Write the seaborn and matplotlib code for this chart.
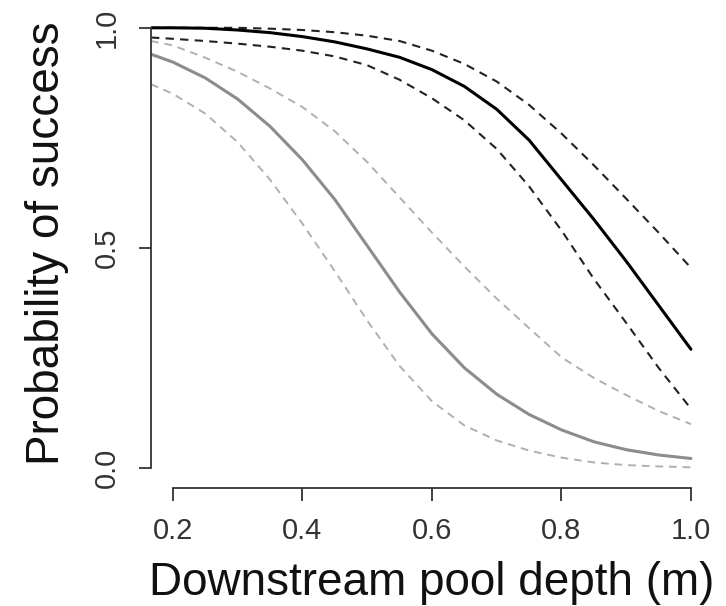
import numpy as np
import pandas as pd
import matplotlib
matplotlib.use("Agg")
import matplotlib.pyplot as plt
import seaborn as sns

# pool depth (m)
depth = [0.166, 0.2, 0.25, 0.3, 0.35, 0.4, 0.45, 0.5, 0.55, 0.6,
         0.65, 0.7, 0.75, 0.8, 0.85, 0.9, 0.95, 1.0]

# black curve: fit and confidence band
black_fit = [1.0, 1.0, 0.999, 0.995, 0.989, 0.980, 0.968, 0.952, 0.933, 0.905,
             0.867, 0.815, 0.745, 0.655, 0.565, 0.470, 0.370, 0.270]
black_hi = [1.0, 1.0, 1.0, 1.0, 0.998, 0.995, 0.990, 0.982, 0.970, 0.948,
            0.918, 0.878, 0.825, 0.760, 0.688, 0.612, 0.535, 0.455]
black_lo = [0.978, 0.975, 0.970, 0.964, 0.957, 0.948, 0.935, 0.915, 0.882, 0.840,
            0.790, 0.725, 0.640, 0.540, 0.430, 0.330, 0.228, 0.135]

# grey curve: fit and confidence band
grey_fit = [0.940, 0.922, 0.886, 0.838, 0.776, 0.700, 0.610, 0.505, 0.400, 0.305,
            0.228, 0.168, 0.122, 0.087, 0.060, 0.042, 0.030, 0.022]
grey_hi = [0.970, 0.960, 0.932, 0.900, 0.862, 0.820, 0.765, 0.695, 0.615, 0.535,
           0.458, 0.385, 0.318, 0.252, 0.205, 0.166, 0.130, 0.100]
grey_lo = [0.872, 0.850, 0.805, 0.740, 0.655, 0.555, 0.447, 0.335, 0.232, 0.152,
           0.097, 0.063, 0.040, 0.024, 0.013, 0.007, 0.004, 0.002]

x_ticks = [0.2, 0.4, 0.6, 0.8, 1.0]
y_ticks = [0.0, 0.5, 1.0]

sns.set_style("white")
plt.rcParams['font.family'] = ['Liberation Sans', 'DejaVu Sans']

fig = plt.figure(figsize=(7.26, 6.06), dpi=100)
ax = fig.add_axes([151 / 726, 118 / 606, 549 / 726, 469 / 606])

dash = (0, (4, 3))
sns.lineplot(x=depth, y=grey_hi, ax=ax, color='#b0b0b0', linewidth=1.4, linestyle=dash)
sns.lineplot(x=depth, y=grey_lo, ax=ax, color='#b0b0b0', linewidth=1.4, linestyle=dash)
sns.lineplot(x=depth, y=grey_fit, ax=ax, color='#8c8c8c', linewidth=2.2)
sns.lineplot(x=depth, y=black_hi, ax=ax, color='#222222', linewidth=1.5, linestyle=dash)
sns.lineplot(x=depth, y=black_lo, ax=ax, color='#222222', linewidth=1.5, linestyle=dash)
sns.lineplot(x=depth, y=black_fit, ax=ax, color='black', linewidth=2.2)

ax.set_xlim(0.166, 1.014)
ax.set_ylim(-0.045, 1.02)

for side in ['top', 'right']:
    ax.spines[side].set_visible(False)
ax.spines['left'].set_bounds(0, 1)
ax.spines['bottom'].set_bounds(0.2, 1.0)
for side in ['left', 'bottom']:
    ax.spines[side].set_color('#333333')
    ax.spines[side].set_linewidth(1.3)

ax.set_xticks(x_ticks)
ax.set_xticklabels([f"{v:.1f}" for v in x_ticks])
ax.set_yticks(y_ticks)
ax.set_yticklabels([f"{v:.1f}" for v in y_ticks])
ax.tick_params(axis='both', direction='out', length=9, width=1.3, color='#333333',
               labelsize=21, labelcolor='#333333', left=True, bottom=True)
ax.tick_params(axis='x', pad=12)
ax.tick_params(axis='y', pad=13)
plt.setp(ax.get_yticklabels(), rotation=90, va='center', ha='right')

ax.set_xlabel('Downstream pool depth (m)', fontsize=33, color='#111111')
ax.set_ylabel('Probability of success', fontsize=33, color='#111111')
ax.xaxis.set_label_coords(0.512, -0.155)
ax.yaxis.set_label_coords(-0.150, 0.522)

fig.savefig('out.png', dpi=100)
